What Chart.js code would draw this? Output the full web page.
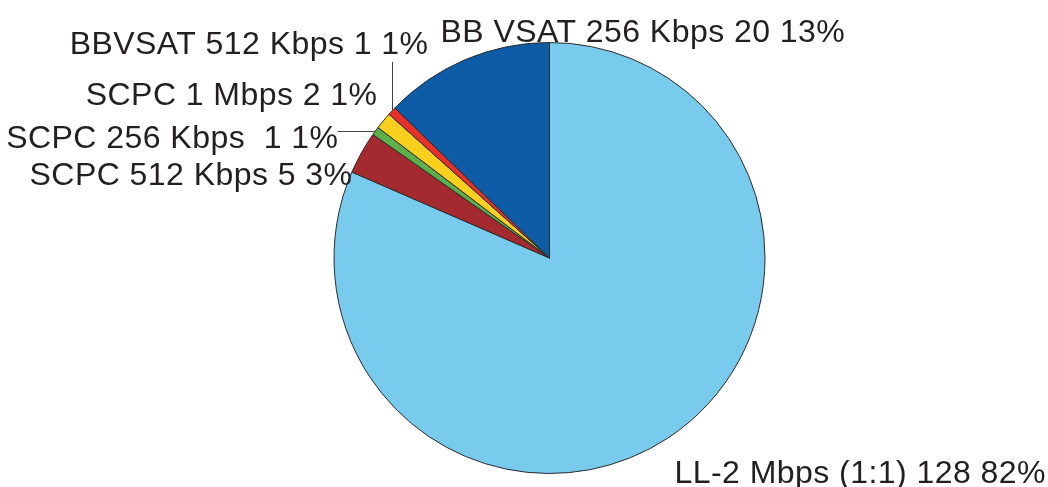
<!DOCTYPE html>
<html>
<head>
<meta charset="utf-8">
<script src="https://cdn.jsdelivr.net/npm/chart.js@4"></script>
<style>
  html, body { margin: 0; padding: 0; background: #fff; }
  #wrap { width: 1048px; height: 487px; position: relative; }
</style>
</head>
<body>
<div id="wrap"><canvas id="pie"></canvas></div>
<script>
// data, clockwise from 12 o'clock
const categories = ['LL-2 Mbps (1:1)', 'SCPC 512 Kbps', 'SCPC 256 Kbps ', 'SCPC 1 Mbps', 'BBVSAT 512 Kbps', 'BB VSAT 256 Kbps'];
const counts = [128, 5, 1, 2, 1, 20];
const percents = ['82%', '3%', '1%', '1%', '1%', '13%'];
const colors = ['#79CBEE', '#A52A30', '#5DB04A', '#F9D01E', '#E8302A', '#0E5CA5'];

// label placement relative to pie centre (style only)
// align, dx, dy (baseline), leader: 'h' | 'v' | null
const labelStyle = [
  { align: 'left',  dx: 125,  dy: 225,  leader: null },
  { align: 'right', dx: -197, dy: -73,  leader: null },
  { align: 'right', dx: -211, dy: -110, leader: 'h' },
  { align: 'right', dx: -172, dy: -153, leader: null },
  { align: 'right', dx: -121, dy: -204, leader: 'v' },
  { align: 'left',  dx: -109, dy: -216, leader: null }
];

const pieLabels = {
  id: 'pieLabels',
  afterDatasetsDraw(chart) {
    const ctx = chart.ctx;
    const arcs = chart.getDatasetMeta(0).data;
    const cx = arcs[0].x, cy = arcs[0].y;
    ctx.save();
    ctx.font = '32px "Liberation Sans", Arial, sans-serif';
    ctx.letterSpacing = '0.45px';
    ctx.fillStyle = '#231f20';
    ctx.textBaseline = 'alphabetic';
    arcs.forEach((arc, i) => {
      const st = labelStyle[i];
      const text = categories[i] + ' ' + counts[i] + ' ' + percents[i];
      const tx = cx + st.dx, ty = cy + st.dy;
      ctx.textAlign = st.align;
      ctx.fillText(text, tx, ty);

      if (st.leader) {
        const mid = (arc.startAngle + arc.endAngle) / 2;
        const ex = cx + Math.cos(mid) * arc.outerRadius;
        const ey = cy + Math.sin(mid) * arc.outerRadius;
        ctx.strokeStyle = '#444';
        ctx.lineWidth = 1;
        ctx.beginPath();
        if (st.leader === 'h') {
          ctx.moveTo(tx - 1, Math.round(ey) + 0.5);
          ctx.lineTo(ex, Math.round(ey) + 0.5);
        } else {
          ctx.moveTo(Math.round(ex) + 0.5, ty + 8);
          ctx.lineTo(Math.round(ex) + 0.5, ey);
        }
        ctx.stroke();
      }
    });
    ctx.restore();
  }
};

new Chart(document.getElementById('pie'), {
  type: 'pie',
  data: {
    labels: categories,
    datasets: [{
      data: counts,
      backgroundColor: colors,
      borderColor: '#2b2b2b',
      borderWidth: 1
    }]
  },
  options: {
    responsive: true,
    maintainAspectRatio: false,
    animation: false,
    layout: { padding: { top: 42, bottom: 13, left: 51, right: 0 } },
    plugins: {
      legend: { display: false },
      tooltip: { enabled: false }
    }
  },
  plugins: [pieLabels]
});
</script>
</body>
</html>
